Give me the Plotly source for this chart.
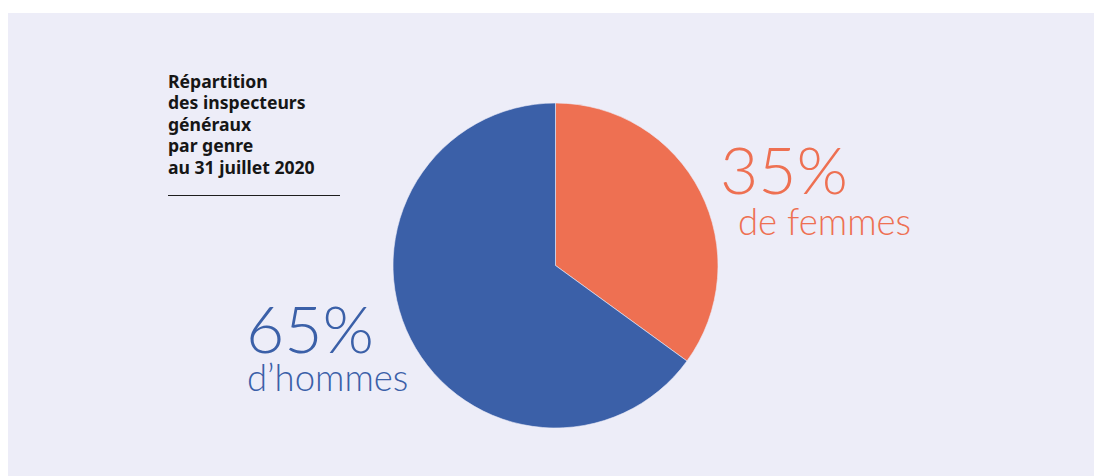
import plotly.graph_objects as go

# page body offset of 8px left / top, like the reference
W, H = 1087, 468
OFF = 8

labels = ["de femmes", "d\u2019hommes"]
values = [35, 65]
colors = ["#EE7052", "#3B60A8"]
title_lines = ["Répartition", "des inspecteurs", "généraux", "par genre", "au 31 juillet 2020"]

def px(x):
    return (x - OFF) / W

def py(y):
    return 1 - (y - OFF) / H

fig = go.Figure()
fig.add_trace(go.Pie(
    labels=labels, values=values, sort=False, direction="clockwise", rotation=0,
    marker=dict(colors=colors, line=dict(color="#EDEDF8", width=0.6)),
    textinfo="none", hoverinfo="skip", showlegend=False,
    domain=dict(x=[px(393), px(718)], y=[py(428), py(103)]),
))

shapes = [
    dict(type="rect", xref="paper", yref="paper", x0=px(8), x1=px(1094), y0=0, y1=py(13),
         fillcolor="#EDEDF8", line=dict(width=0), layer="below"),
    dict(type="line", xref="paper", yref="paper", x0=px(168), x1=px(340), y0=py(195.5), y1=py(195.5),
         line=dict(color="#1E1E1E", width=1.2)),
]

annotations = []
for i, t in enumerate(title_lines):
    annotations.append(dict(text=f"<b>{t}</b>", x=px(166), y=py(80.5 + i * 21.6),
                            xanchor="left", yanchor="middle",
                            font=dict(family="Noto Sans", size=17.6, color="#161616")))

big = dict(family="Lato", size=66, weight=300)
small = dict(family="Lato", size=36.5, weight=300)
annotations += [
    dict(text=f"{values[0]}%", x=px(718), y=py(168.5), xanchor="left", yanchor="middle",
         font=dict(**big, color=colors[0])),
    dict(text=labels[0], x=px(736), y=py(221), xanchor="left", yanchor="middle",
         font=dict(**small, color=colors[0])),
    dict(text=f"{values[1]}%", x=px(244), y=py(327), xanchor="left", yanchor="middle",
         font=dict(**big, color=colors[1])),
    dict(text=labels[1], x=px(245), y=py(377), xanchor="left", yanchor="middle",
         font=dict(**small, color=colors[1])),
]
for a in annotations:
    a.update(xref="paper", yref="paper", showarrow=False)

fig.update_layout(
    width=W, height=H, margin=dict(l=0, r=0, t=0, b=0),
    paper_bgcolor="#FFFFFF", plot_bgcolor="#FFFFFF",
    shapes=shapes, annotations=annotations,
)

fig.write_html("out.html", post_script="document.body.style.margin='8px 0 0 8px';document.body.style.overflow='hidden';")
